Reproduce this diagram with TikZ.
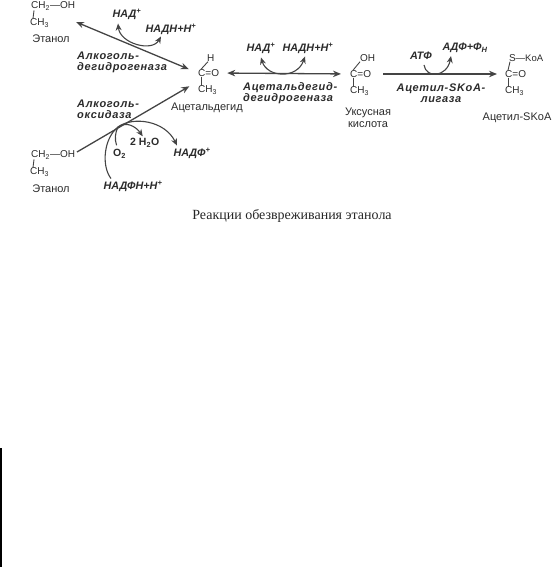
\documentclass[tikz,border=0pt]{standalone}
\usepackage{fontspec}
\setmainfont{Liberation Sans}
\newfontfamily\captionfont{Liberation Serif}
\newfontfamily\enzfont[LetterSpace=6]{Liberation Sans}
\usepackage{xcolor}
\usepackage{tikz}
\usetikzlibrary{positioning, arrows.meta}
\definecolor{inkgray}{HTML}{2B2B2B}
\definecolor{linegray}{HTML}{444444}

\begin{document}
\begin{tikzpicture}[
  x=1pt, y=-1pt,
  font=\fontsize{10}{12}\selectfont,
  text=inkgray,
  atom/.style={inner sep=0pt, anchor=west},
  compound/.style={inner sep=0pt, font=\fontsize{11}{12.2}\selectfont, align=center},
  cofactor/.style={inner sep=0pt, font=\fontsize{10.8}{12}\selectfont\bfseries\itshape},
  enzyme/.style={inner sep=0pt, anchor=west, align=left,
    font=\fontsize{11}{10.6}\selectfont\enzfont\bfseries\itshape},
  bond/.style={draw=linegray, line width=0.9pt},
  rxn/.style={draw=linegray, line width=1.3pt, -{Stealth[length=8pt,width=6.5pt]}},
  rxnboth/.style={draw=linegray, line width=1.3pt,
    {Stealth[length=8pt,width=6.5pt]}-{Stealth[length=8pt,width=6.5pt]}},
  curve/.style={draw=linegray, line width=1.1pt, -{Stealth[length=7pt,width=6pt]}},
  curveboth/.style={curve, {Stealth[length=7pt,width=6pt]}-{Stealth[length=7pt,width=6pt]}},
  plain/.style={draw=linegray, line width=1.1pt},
]
  \useasboundingbox (0,0) rectangle (553,567);
  \fill[black] (0,448) rectangle (1.5,567);

  % ethanol, top
  \node[atom] (ethA) at (31,6) {CH\textsubscript{2}—OH};
  \node[atom] (ethAm) at (30,23) {CH\textsubscript{3}};
  \node[compound] (ethAn) at (51,39) {Этанол};
  \draw[bond] ([xshift=3pt]ethA.south west) -- ([xshift=3pt]ethAm.north west);

  % ethanol, bottom
  \node[atom] (ethB) at (31,155) {CH\textsubscript{2}—OH};
  \node[atom] (ethBm) at (30,172) {CH\textsubscript{3}};
  \node[compound] (ethBn) at (51,189) {Этанол};
  \draw[bond] ([xshift=3pt]ethB.south west) -- ([xshift=3pt]ethBm.north west);

  % acetaldehyde
  \node[atom] (aldC) at (198,73) {C=O};
  \node[atom] (aldH) at (207,58) {H};
  \node[atom] (aldM) at (198,90) {CH\textsubscript{3}};
  \node[compound] (aldn) at (207,108) {Ацетальдегид};
  \draw[bond] ([xshift=1pt]aldH.south west) -- ([xshift=3pt]aldC.north west);
  \draw[bond] ([xshift=3pt]aldC.south west) -- ([xshift=3pt]aldM.north west);

  % acetic acid
  \node[atom] (acidC) at (350,74) {C=O};
  \node[atom] (acidH) at (360,58) {OH};
  \node[atom] (acidM) at (350,91) {CH\textsubscript{3}};
  \node[compound] (acidn) at (368,117.5) {Уксусная\\кислота};
  \draw[bond] ([xshift=0pt]acidH.south west) -- ([xshift=3pt]acidC.north west);
  \draw[bond] ([xshift=3pt]acidC.south west) -- ([xshift=3pt]acidM.north west);

  % acetyl-SKoA
  \node[atom] (acoC) at (505,74) {C=O};
  \node[atom] (acoS) at (509,58) {S};
  \node[atom, font=\fontsize{9.5}{10}\selectfont] (acoK) at (515.5,58) {—KoA};
  \node[atom] (acoM) at (505,91) {CH\textsubscript{3}};
  \node[compound] (acon) at (517,118) {Ацетил-SKoA};
  \draw[bond] ([xshift=1pt]acoS.south west) -- ([xshift=3pt]acoC.north west);
  \draw[bond] ([xshift=3pt]acoC.south west) -- ([xshift=3pt]acoM.north west);

  \coordinate (ethAr) at (76,22);
  \coordinate (ethBr) at (77,152);
  \draw[rxnboth, shorten >=10pt] (ethAr) -- (aldC.west);
  \draw[rxn, shorten >=10pt] (ethBr) -- ([yshift=-4.5pt]aldC.south west);
  \draw[rxnboth, shorten <=8pt, shorten >=9pt] (aldC.east) -- (acidC.west);
  \draw[rxn, shorten <=12pt, shorten >=8pt] (acidC.east) -- (acoC.west);

  % enzymes
  \node[enzyme] (adh) at (77,62.5) {Алкоголь-\\дегидрогеназа};
  \node[enzyme] (aox) at (77,109.5) {Алкоголь-\\оксидаза};
  \node[enzyme] (aldh) at (243,93) {Ацетальдегид-\\дегидрогеназа};
  \node[enzyme, anchor=center, align=center] (acs) at (441,93) {Ацетил-SKoA-\\лигаза};

  % cofactors
  \node[cofactor] (nadA) at (127,14.5) {НАД\textsuperscript{+}};
  \node[cofactor] (nadhA) at (171,29) {НАДН+Н\textsuperscript{+}};
  \draw[curveboth] ([xshift=-9pt,yshift=-3.5pt]nadA.south) .. controls +(2,20) and +(-9,16) .. ([xshift=-10pt,yshift=-2pt]nadhA.south);

  \node[cofactor] (nadB) at (261,48) {НАД\textsuperscript{+}};
  \node[cofactor] (nadhB) at (308,48) {НАДН+Н\textsuperscript{+}};
  \draw[curveboth] ([yshift=-4pt]nadB.south) .. controls +(6,20) and +(-8,23) .. ([xshift=-3pt,yshift=-3pt]nadhB.south);

  \node[cofactor] (atp) at (421,56) {АТФ};
  \node[cofactor] (adp) at (465,48) {АДФ+Ф\textsubscript{Н}};
  \draw[curve] ([xshift=3pt,yshift=-5pt]atp.south) .. controls +(2,14) and +(-4,21) .. ([xshift=-14pt,yshift=-3pt]adp.south);

  % alcohol oxidase side paths
  \coordinate (oxHub) at (118,127);
  \node[atom, font=\fontsize{10.5}{11}\selectfont\bfseries] (otwo) at (113,154) {O\textsubscript{2}};
  \node[atom, font=\fontsize{10.5}{11}\selectfont\bfseries] (water) at (130,143) {2 H\textsubscript{2}O};
  \node[cofactor] (nadp) at (192,153) {НАДФ\textsuperscript{+}};
  \node[cofactor] (nadph) at (133,186) {НАДФН+Н\textsuperscript{+}};
  \draw[plain] ([xshift=-3pt,yshift=4pt]otwo.north) .. controls +(-2,-6) and +(-3,6) .. (oxHub);
  \draw[plain] ([xshift=-22pt,yshift=2pt]nadph.north) .. controls +(-10,-13) and +(-14,11) .. (oxHub);
  \draw[curve] (oxHub) .. controls +(8,-6) and +(-7,-10) .. ([xshift=-2pt,yshift=2pt]water.north);
  \draw[curve] (oxHub) .. controls +(15,-11) and +(-12,-25) .. ([xshift=-15pt,yshift=2pt]nadp.north);

  \node[inner sep=0pt, font=\captionfont\fontsize{14}{16}\selectfont, text=black!85] (cap) at (292,216)
    {Реакции обезвреживания этанола};
\end{tikzpicture}
\end{document}
